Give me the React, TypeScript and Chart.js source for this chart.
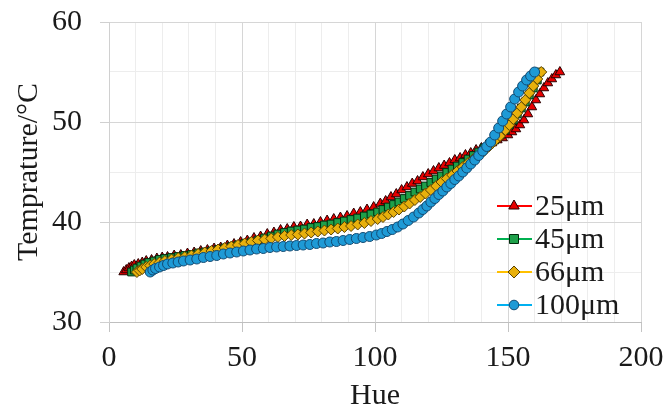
import React, { useEffect, useRef } from 'react';
import { Chart, registerables } from 'chart.js';

Chart.register(...registerables);

const FONT = '"Liberation Serif", "Times New Roman", serif';

const seriesLabels = ['25μm', '45μm', '66μm', '100μm'];
const xTitle = 'Hue';
const yTitle = 'Temprature/°C';

const hue25 = [5.5,6.5,7.5,8.5,9.5,11,12.5,14,16,18,20,22,24.5,27,29.5,32,34.5,37,39.5,42,44.5,47,49.5,52,54.5,57,59.5,62,64.5,67,69.5,72,74.5,77,79.5,82,84.5,87,89.5,92,94.5,97,99.5,102,104,106,108,110,112,114,116,118,120,122,124,126,128,130,132,134,136,138,140,142,144,146,148,150,151.5,153,154.5,156,157.5,159,160.5,162,163.5,165,166.5,168,169.5];
const temp25 = [35.0,35.2,35.4,35.55,35.7,35.8,35.95,36.1,36.2,36.35,36.45,36.5,36.65,36.7,36.85,36.95,37.1,37.2,37.35,37.45,37.65,37.8,38.0,38.15,38.4,38.55,38.8,38.95,39.2,39.3,39.5,39.55,39.75,39.8,40.0,40.15,40.3,40.45,40.6,40.85,41.0,41.25,41.5,41.85,42.1,42.5,42.8,43.2,43.5,43.85,44.1,44.5,44.8,45.1,45.4,45.65,45.9,46.2,46.4,46.7,46.9,47.2,47.4,47.7,47.9,48.2,48.4,48.7,49.0,49.3,49.7,50.2,50.8,51.5,52.2,52.8,53.4,53.9,54.3,54.7,55.0];

const hue45 = [8.5,9.5,10.5,12,13.5,15,17,19,21,23.5,26,28.5,31,33.5,36,38.5,41,43.5,46,48.5,51,53.5,56,58.5,61,63.5,66,68.5,71,73.5,76,78.5,81,83.5,86,88.5,91,93.5,96,98.5,101,103,105,107,109,111,113,115,117,119,121,123,125,127,129,131,133,135,137,139,141,143,145,147,149,150.5,152,153.5,155,156.5,158,159.5,161,162];
const temp45 = [35.0,35.2,35.4,35.6,35.8,35.95,36.1,36.25,36.35,36.45,36.55,36.65,36.75,36.9,37.0,37.1,37.25,37.4,37.55,37.7,37.85,38.0,38.2,38.4,38.6,38.8,38.95,39.1,39.2,39.3,39.45,39.55,39.7,39.8,39.95,40.1,40.25,40.4,40.6,40.8,41.0,41.25,41.5,41.75,42.0,42.35,42.65,43.0,43.3,43.6,43.95,44.3,44.6,44.95,45.3,45.6,45.95,46.3,46.65,47.0,47.4,47.8,48.2,48.7,49.2,49.7,50.2,50.8,51.4,52.0,52.7,53.4,54.2,55.0];

const hue66 = [10.5,11.5,12.5,14,15.5,17,19,21,23.5,26,28.5,31,33.5,36,38.5,41,43.5,46,48.5,51,53.5,56,58.5,61,63.5,66,68.5,71,73.5,76,78.5,81,83.5,86,88.5,91,93.5,96,98.5,101,103,105,107,109,111,113,115,117,119,121,123,125,127,129,131,133,135,137,139,141,143,145,147,149,150.5,152,153.5,155,156.5,158,159.5,161,162.5];
const temp66 = [35.0,35.15,35.3,35.5,35.65,35.8,35.95,36.1,36.25,36.4,36.5,36.65,36.8,36.95,37.1,37.25,37.4,37.55,37.7,37.85,38.0,38.15,38.25,38.35,38.5,38.6,38.7,38.75,38.85,38.95,39.05,39.15,39.25,39.35,39.5,39.6,39.75,39.9,40.1,40.3,40.5,40.75,41.0,41.25,41.55,41.85,42.2,42.5,42.85,43.2,43.6,44.0,44.35,44.7,45.1,45.5,45.9,46.3,46.7,47.1,47.6,48.1,48.6,49.2,49.7,50.3,50.9,51.5,52.2,52.9,53.6,54.3,55.0];

const hue100 = [15.5,16.5,17.5,19,20.5,22,24,26,28,30.5,33,35.5,38,40.5,43,45.5,48,50.5,53,55.5,58,60.5,63,65.5,68,70.5,73,75.5,78,80.5,83,85.5,88,90.5,93,95.5,98,100.5,102.5,104.5,106.5,108.5,110.5,112.5,114.5,116.5,118,119.5,121,122.5,124,125.5,127,128.5,130,131.5,133,134.5,136,137.5,139,140.5,142,143.5,145,146.5,148,149.5,151,152.5,154,155.5,157,158.5,160];
const temp100 = [35.0,35.2,35.35,35.5,35.65,35.8,35.9,36.0,36.1,36.2,36.3,36.45,36.55,36.65,36.8,36.9,37.0,37.1,37.2,37.3,37.35,37.45,37.5,37.55,37.6,37.65,37.7,37.75,37.85,37.9,38.0,38.05,38.15,38.25,38.35,38.45,38.55,38.7,38.85,39.05,39.25,39.5,39.8,40.15,40.5,40.9,41.25,41.6,42.0,42.35,42.75,43.1,43.5,43.85,44.25,44.6,45.0,45.4,45.8,46.2,46.65,47.1,47.55,48.0,48.7,49.4,50.1,50.8,51.5,52.3,53.0,53.6,54.2,54.6,55.0];

const hues = [hue25, hue45, hue66, hue100];
const temps = [temp25, temp45, temp66, temp100];

const lineColors = ['#ff0000', '#00b050', '#ffc000', '#00b0f0'];
const fillColors = ['#e80000', '#1ea04a', '#e8b00c', '#1e9ad6'];
const edgeColors = ['#2a0000', '#002a0c', '#5a4200', '#124a72'];
const markerStyles = ['triangle', 'rect', 'rectRot', 'circle'];
const markerRadius = [5.5, 5.5, 5.5, 5];

function drawMarker(ctx: CanvasRenderingContext2D, style: string, x: number, y: number, r: number) {
  ctx.beginPath();
  if (style === 'triangle') {
    ctx.moveTo(x, y - r);
    ctx.lineTo(x + r * 0.866, y + r * 0.5);
    ctx.lineTo(x - r * 0.866, y + r * 0.5);
    ctx.closePath();
  } else if (style === 'rect') {
    const s = r * 0.75;
    ctx.rect(x - s, y - s, 2 * s, 2 * s);
  } else if (style === 'rectRot') {
    ctx.moveTo(x, y - r);
    ctx.lineTo(x + r, y);
    ctx.lineTo(x, y + r);
    ctx.lineTo(x - r, y);
    ctx.closePath();
  } else {
    ctx.arc(x, y, r * 0.8, 0, Math.PI * 2);
  }
  ctx.fill();
  ctx.stroke();
}

const lineLegend = {
  id: 'lineLegend',
  afterDraw(chart: any) {
    const { ctx, chartArea } = chart;
    const x0 = chartArea.right - 144;
    const y0 = chartArea.bottom - 116;
    ctx.save();
    chart.data.datasets.forEach((ds: any, i: number) => {
      const y = y0 + i * 33;
      ctx.strokeStyle = ds.borderColor;
      ctx.lineWidth = 2;
      ctx.beginPath();
      ctx.moveTo(x0, y);
      ctx.lineTo(x0 + 35, y);
      ctx.stroke();
      ctx.fillStyle = ds.pointBackgroundColor;
      ctx.strokeStyle = ds.pointBorderColor;
      ctx.lineWidth = 1;
      drawMarker(ctx, ds.pointStyle, x0 + 17, y, 6);
      ctx.fillStyle = '#1a1a1a';
      ctx.font = '30px ' + FONT;
      ctx.textAlign = 'left';
      ctx.textBaseline = 'middle';
      ctx.fillText(ds.label, x0 + 38, y + 1);
    });
    ctx.restore();
  },
};

export default function App() {
  const ref = useRef<HTMLCanvasElement>(null);
  useEffect(() => {
    const datasets = seriesLabels.map((label, i) => ({
      label,
      data: hues[i].map((x, j) => ({ x, y: temps[i][j] })),
      showLine: false,
      borderColor: lineColors[i],
      backgroundColor: fillColors[i],
      pointBackgroundColor: fillColors[i],
      pointBorderColor: edgeColors[i],
      pointBorderWidth: 1,
      pointStyle: markerStyles[i],
      pointRadius: markerRadius[i],
      order: 4 - i,
    }));
    const tickFont = { family: FONT, size: 30 };
    const chart = new Chart(ref.current!, {
      type: 'scatter',
      data: { datasets },
      options: {
        responsive: false,
        animation: false,
        layout: { padding: { top: 22, right: 23, left: 0, bottom: 0 } },
        plugins: { legend: { display: false }, tooltip: { enabled: false } },
        scales: {
          x: {
            type: 'linear',
            position: 'bottom',
            min: 0,
            max: 200,
            afterFit: (s: any) => { s.height = 92; s.paddingLeft = 0; s.paddingRight = 0; },
            ticks: {
              stepSize: 10,
              autoSkip: false,
              maxRotation: 0,
              minRotation: 0,
              padding: 8,
              color: '#1a1a1a',
              font: tickFont,
              callback: (v: any) => (Number(v) % 50 === 0 ? String(v) : ''),
            },
            grid: {
              color: (c: any) => (c.tick && c.tick.value % 50 === 0 ? '#d6d6d6' : '#ededed'),
              tickColor: (c: any) => (c.tick && c.tick.value % 50 === 0 ? '#c4c4c4' : 'rgba(0,0,0,0)'),
              tickLength: 10,
            },
            border: { color: '#bfbfbf' },
            title: { display: true, text: xTitle, color: '#1a1a1a', font: tickFont, padding: { top: 0, bottom: 0 } },
          },
          y: {
            type: 'linear',
            min: 30,
            max: 60,
            afterFit: (s: any) => { s.width = 109; s.paddingTop = 0; s.paddingBottom = 0; },
            ticks: {
              stepSize: 5,
              autoSkip: false,
              padding: 18,
              color: '#1a1a1a',
              font: tickFont,
              callback: (v: any) => (Number(v) % 10 === 0 ? String(v) : ''),
            },
            grid: {
              color: (c: any) => (c.tick && c.tick.value % 10 === 0 ? '#d6d6d6' : '#ededed'),
              tickColor: (c: any) => (c.tick && c.tick.value % 10 === 0 ? '#d0d0d0' : 'rgba(0,0,0,0)'),
              tickLength: 9,
            },
            border: { color: '#d0d0d0' },
            title: { display: true, text: yTitle, color: '#1a1a1a', font: tickFont, padding: { top: 11, bottom: 0 } },
          },
        },
      },
      plugins: [lineLegend],
    } as any);
    return () => chart.destroy();
  }, []);
  return (
    <div style={{ position: 'absolute', left: 0, top: 0, width: 664, height: 414 }}>
      <canvas ref={ref} width={664} height={414} style={{ display: 'block' }} />
    </div>
  );
}
